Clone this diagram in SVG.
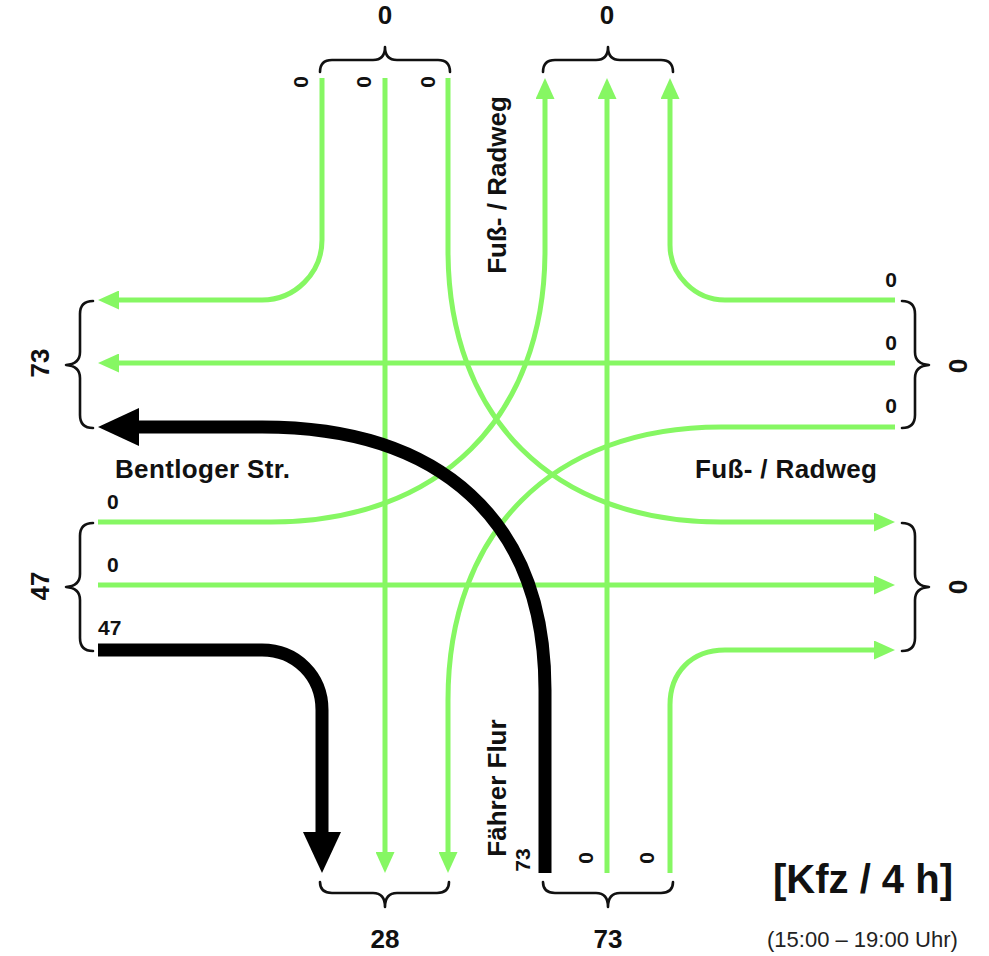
<svg xmlns="http://www.w3.org/2000/svg" width="989" height="956" viewBox="0 0 989 956">
<style>
.g{fill:none;stroke:#86f763;stroke-width:5;marker-end:url(#ga)}
.b{fill:none;stroke:#000;stroke-width:13;marker-end:url(#ba)}
.br{fill:none;stroke:#111;stroke-width:2.6;stroke-linecap:round;stroke-linejoin:round}
text{font-family:"Liberation Sans",Arial,sans-serif;fill:#111}
.s{font-size:21px;font-weight:bold}
.t{font-size:26px;font-weight:bold}
.n{font-size:26px;font-weight:bold}
</style>
<defs>
<marker id="ga" markerUnits="userSpaceOnUse" viewBox="0 0 21 19" refX="0" refY="9.5" markerWidth="21" markerHeight="19" orient="auto">
<path d="M0,0 L21,9.5 L0,19 Z" fill="#86f763"/>
</marker>
<marker id="ba" markerUnits="userSpaceOnUse" viewBox="0 0 41 38" refX="0" refY="19" markerWidth="41" markerHeight="38" orient="auto">
<path d="M0,0 L41,19 L0,38 Z" fill="#000"/>
</marker>
</defs>
<rect width="989" height="956" fill="#fff"/>

<g id="connectors">
<path class="g" d="M322,78 V240 C322,273 295,300 262,300 H119"/>
<path class="g" d="M385,78 V852"/>
<path class="g" d="M448,78 V250 C448,418 553,522 721,522 H874"/>
<path class="g" d="M895,300 H725 C695,300 670,275 670,245 V99"/>
<path class="g" d="M895,363 H119"/>
<path class="g" d="M895,427 H721 C553,427 448,532 448,700 V852"/>
<path class="g" d="M98,522 H271 C439,522 545,418 545,250 V99"/>
<path class="g" d="M98,585 H874"/>
<path class="g" d="M607,873 V99"/>
<path class="g" d="M670,873 V705 C670,672 692,650 725,650 H874"/>
<path class="b" d="M98,650 H262 C296,650 322,676 322,710 V832"/>
<path class="b" d="M545,873 V690 C545,520 440,427 262,427 H139"/>
</g>

<g id="north-arm">
<path class="br" d="M320,72 Q320,60 332,60 H373 Q385,60 385,47 Q385,60 397,60 H438 Q450,60 450,72"/>
<path class="br" d="M543,72 Q543,60 555,60 H596 Q608,60 608,47 Q608,60 620,60 H661 Q673,60 673,72"/>
<text class="n" x="385" y="24" text-anchor="middle">0</text>
<text class="n" x="607" y="24" text-anchor="middle">0</text>
<text class="s" transform="translate(300,82) rotate(-90)" text-anchor="middle" dy="0.36em">0</text>
<text class="s" transform="translate(363,82) rotate(-90)" text-anchor="middle" dy="0.36em">0</text>
<text class="s" transform="translate(427,82) rotate(-90)" text-anchor="middle" dy="0.36em">0</text>
<text class="t" transform="translate(497,185) rotate(-90)" text-anchor="middle" dy="0.36em">Fuß- / Radweg</text>
</g>

<g id="west-arm">
<path class="br" d="M93,301 Q80,301 80,314 V352 Q80,364 66,365 Q80,366 80,378 V415 Q80,428 93,428"/>
<path class="br" d="M93,523 Q80,523 80,536 V574 Q80,586 66,587 Q80,588 80,600 V638 Q80,651 93,651"/>
<text class="n" transform="translate(40,363) rotate(-90)" text-anchor="middle" dy="0.36em">73</text>
<text class="n" transform="translate(40,586) rotate(-90)" text-anchor="middle" dy="0.36em">47</text>
<text class="s" x="107" y="509">0</text>
<text class="s" x="107" y="572">0</text>
<text class="s" x="98" y="635">47</text>
<text class="t" x="115" y="478" textLength="175">Bentloger Str.</text>
</g>

<g id="east-arm">
<path class="br" d="M902,301 Q915,301 915,314 V352 Q915,364 929,365 Q915,366 915,378 V415 Q915,428 902,428"/>
<path class="br" d="M902,523 Q915,523 915,536 V574 Q915,586 929,587 Q915,588 915,600 V638 Q915,651 902,651"/>
<text class="n" transform="translate(958,366) rotate(90)" text-anchor="middle" dy="0.36em">0</text>
<text class="n" transform="translate(958,587) rotate(90)" text-anchor="middle" dy="0.36em">0</text>
<text class="s" x="891" y="287" text-anchor="middle">0</text>
<text class="s" x="891" y="350" text-anchor="middle">0</text>
<text class="s" x="891" y="413" text-anchor="middle">0</text>
<text class="t" x="695" y="478" textLength="182">Fuß- / Radweg</text>
</g>

<g id="south-arm">
<path class="br" d="M320,882 Q320,893 332,893 H373 Q385,893 385,907 Q385,893 397,893 H437 Q449,893 449,882"/>
<path class="br" d="M543,882 Q543,893 555,893 H596 Q608,893 608,907 Q608,893 620,893 H661 Q673,893 673,882"/>
<text class="n" x="385" y="948" text-anchor="middle">28</text>
<text class="n" x="608" y="948" text-anchor="middle">73</text>
<text class="s" transform="translate(522,860) rotate(-90)" text-anchor="middle" dy="0.36em">73</text>
<text class="s" transform="translate(585,858) rotate(-90)" text-anchor="middle" dy="0.36em">0</text>
<text class="s" transform="translate(646,858) rotate(-90)" text-anchor="middle" dy="0.36em">0</text>
<text class="t" transform="translate(497,788) rotate(-90)" text-anchor="middle" dy="0.36em">Fährer Flur</text>
</g>

<g id="legend">
<text x="773" y="893" style="font-size:40px;font-weight:bold">[Kfz / 4 h]</text>
<text x="767" y="947" style="font-size:22px;fill:#222">(15:00 – 19:00 Uhr)</text>
</g>
</svg>
